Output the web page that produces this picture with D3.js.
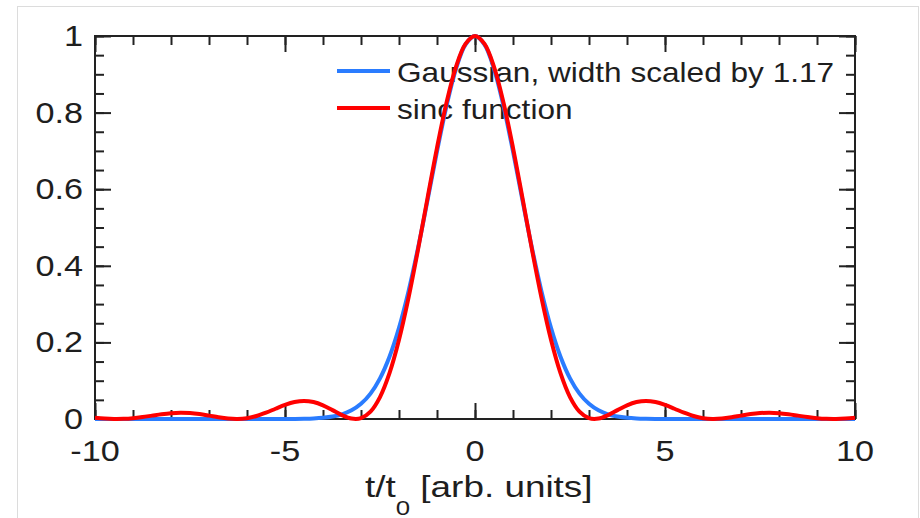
<!DOCTYPE html>
<html>
<head>
<meta charset="utf-8">
<script src="https://cdn.jsdelivr.net/npm/d3@7"></script>
<style>
  body { margin: 0; background: #fff; }
  svg { display: block; }
  text { font-family: "Liberation Sans", Arial, Helvetica, sans-serif; fill: #1e1e1e; }
</style>
</head>
<body>
<svg width="920" height="518"></svg>
<script>
// t/t0 sample positions
var tValues = [-10, -9.75, -9.5, -9.25, -9, -8.75, -8.5, -8.25, -8, -7.75, -7.5, -7.25, -7, -6.75, -6.5, -6.25,
  -6, -5.75, -5.5, -5.25, -5, -4.75, -4.5, -4.25, -4, -3.75, -3.5, -3.25, -3, -2.75, -2.5, -2.25,
  -2, -1.75, -1.5, -1.25, -1, -0.75, -0.5, -0.25, 0, 0.25, 0.5, 0.75, 1, 1.25, 1.5, 1.75,
  2, 2.25, 2.5, 2.75, 3, 3.25, 3.5, 3.75, 4, 4.25, 4.5, 4.75, 5, 5.25, 5.5, 5.75,
  6, 6.25, 6.5, 6.75, 7, 7.25, 7.5, 7.75, 8, 8.25, 8.5, 8.75, 9, 9.25, 9.5, 9.75, 10];

// sinc function (red)
var sincValues = [0.0030, 0.0011, 0.0001, 0.0004, 0.0021, 0.0051, 0.0088, 0.0125, 0.0153, 0.0165, 0.0156, 0.0129, 0.0088, 0.0044, 0.0011, 0.0000,
  0.0022, 0.0078, 0.0165, 0.0268, 0.0368, 0.0443, 0.0472, 0.0443, 0.0358, 0.0232, 0.0100, 0.0011, 0.0022, 0.0193, 0.0573, 0.1196,
  0.2067, 0.3162, 0.4422, 0.5764, 0.7081, 0.8260, 0.9194, 0.9793, 1.0000, 0.9793, 0.9194, 0.8260, 0.7081, 0.5764, 0.4422, 0.3162,
  0.2067, 0.1196, 0.0573, 0.0193, 0.0022, 0.0011, 0.0100, 0.0232, 0.0358, 0.0443, 0.0472, 0.0443, 0.0368, 0.0268, 0.0165, 0.0078,
  0.0022, 0.0000, 0.0011, 0.0044, 0.0088, 0.0129, 0.0156, 0.0165, 0.0153, 0.0125, 0.0088, 0.0051, 0.0021, 0.0004, 0.0001, 0.0011, 0.0030];

// Gaussian, width scaled by 1.17 (blue)
var gaussValues = [0, 0, 0, 0, 0, 0, 0, 0, 0, 0, 0, 0, 0, 0, 0, 0,
  0, 0, 0, 0, 0.0001, 0.0003, 0.0007, 0.0015, 0.0032, 0.0064, 0.0123, 0.0226, 0.0396, 0.0663, 0.1062, 0.1626,
  0.2381, 0.3333, 0.4461, 0.5709, 0.6986, 0.8173, 0.9142, 0.9778, 1.0000, 0.9778, 0.9142, 0.8173, 0.6986, 0.5709, 0.4461, 0.3333,
  0.2381, 0.1626, 0.1062, 0.0663, 0.0396, 0.0226, 0.0123, 0.0064, 0.0032, 0.0015, 0.0007, 0.0003, 0.0001, 0, 0, 0,
  0, 0, 0, 0, 0, 0, 0, 0, 0, 0, 0, 0, 0, 0, 0, 0, 0];

var xMajor = [-10, -5, 0, 5, 10];
var xTickLabels = ["-10", "-5", "0", "5", "10"];
var yMajor = [0, 0.2, 0.4, 0.6, 0.8, 1];
var yTickLabels = ["0", "0.2", "0.4", "0.6", "0.8", "1"];
var seriesNames = ["Gaussian, width scaled by 1.17", "sinc function"];
var seriesColors = ["#2a7cff", "#ff0000"];

var svg = d3.select("svg");

// plot box
var plotLeft = 95, plotRight = 855, plotTop = 36, plotBottom = 419;

var x = d3.scaleLinear().domain([-10, 10]).range([plotLeft, plotRight]);
var y = d3.scaleLinear().domain([0, 1]).range([plotBottom, plotTop]);

// light border round the picture
svg.append("rect")
  .attr("x", 17.5).attr("y", 6.5)
  .attr("width", 901).attr("height", 530)
  .attr("fill", "none")
  .attr("stroke", "#dcdcdc")
  .attr("stroke-width", 1);

// text helper, the reference font looks stretched sideways
function label(g, px, py, anchor, size, sx, str) {
  return g.append("text")
    .attr("transform", "translate(" + px + "," + py + ") scale(" + sx + ",1)")
    .attr("text-anchor", anchor)
    .style("font-size", size + "px")
    .text(str);
}

// ticks on all four sides, pointing inwards
function ticks(axis, tx, ty, values, len) {
  svg.append("g")
    .attr("transform", "translate(" + tx + "," + ty + ")")
    .call(axis.tickValues(values).tickSize(-len).tickFormat(""))
    .call(function (g) { g.select(".domain").remove(); })
    .selectAll("line")
    .attr("stroke", "#222")
    .attr("stroke-width", 2);
}

ticks(d3.axisBottom(x), 0, plotBottom, x.ticks(20), 9);
ticks(d3.axisBottom(x), 0, plotBottom, xMajor, 16);
ticks(d3.axisTop(x), 0, plotTop, x.ticks(20), 9);
ticks(d3.axisTop(x), 0, plotTop, xMajor, 16);
ticks(d3.axisLeft(y), plotLeft, 0, y.ticks(20), 9);
ticks(d3.axisLeft(y), plotLeft, 0, yMajor, 16);
ticks(d3.axisRight(y), plotRight, 0, y.ticks(20), 9);
ticks(d3.axisRight(y), plotRight, 0, yMajor, 16);

svg.append("rect")
  .attr("x", plotLeft).attr("y", plotTop)
  .attr("width", plotRight - plotLeft).attr("height", plotBottom - plotTop)
  .attr("fill", "none")
  .attr("stroke", "#222")
  .attr("stroke-width", 2);

// tick labels
var labels = svg.append("g");
xMajor.forEach(function (v, i) {
  label(labels, x(v), plotBottom + 42, "middle", 29, 1.18, xTickLabels[i]);
});
yMajor.forEach(function (v, i) {
  label(labels, 83, y(v) + 10, "end", 29, 1.18, yTickLabels[i]);
});

// axis title with subscript
var title = svg.append("text")
  .attr("transform", "translate(365,497) scale(1.23,1)")
  .style("font-size", "30px");
title.append("tspan").text("t/t");
title.append("tspan").attr("dy", 18).style("font-size", "21px").text("0");
title.append("tspan").attr("dy", -18).text(" [arb. units]");

// legend
var legend = svg.append("g");
seriesNames.forEach(function (name, i) {
  var ly = 71 + i * 37;
  legend.append("line")
    .attr("x1", 337).attr("x2", 390)
    .attr("y1", ly).attr("y2", ly)
    .attr("stroke", seriesColors[i])
    .attr("stroke-width", 4);
  label(legend, 397, ly + 11, "start", 27, 1.17, name);
});

// curves
var line = d3.line()
  .x(function (d) { return x(d.t); })
  .y(function (d) { return y(d.v); })
  .curve(d3.curveCatmullRom.alpha(0.5));

var series = [gaussValues, sincValues];
series.forEach(function (vals, i) {
  var pts = tValues.map(function (t, j) { return { t: t, v: vals[j] }; });
  svg.append("path")
    .datum(pts)
    .attr("d", line)
    .attr("fill", "none")
    .attr("stroke", seriesColors[i])
    .attr("stroke-width", 4)
    .attr("stroke-linejoin", "round");
});
</script>
</body>
</html>
